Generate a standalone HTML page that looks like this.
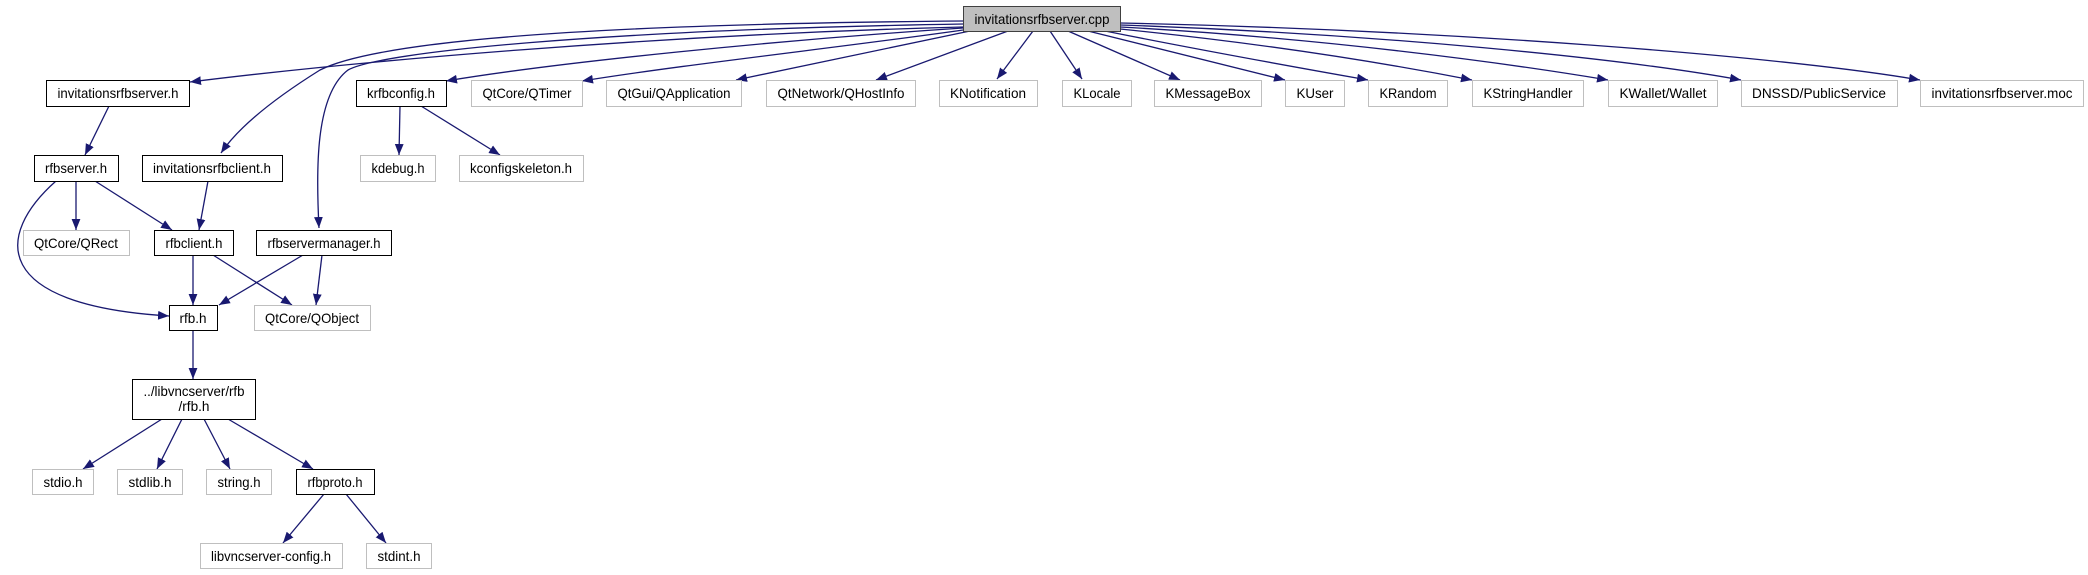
<!DOCTYPE html>
<html><head><meta charset="utf-8"><style>
html,body{margin:0;padding:0;background:#fff;}
svg{display:block;}
text{font-family:"Liberation Sans",sans-serif;font-size:14px;fill:#000;}
</style></head><body>
<svg width="2088" height="575" viewBox="0 0 2088 575" xmlns="http://www.w3.org/2000/svg">
<defs>
<marker id="a" viewBox="0 0 10 10" refX="10" refY="5" markerWidth="11" markerHeight="11" markerUnits="userSpaceOnUse" orient="auto">
<path d="M0,1 L10,5 L0,9 Z" fill="#191970"/>
</marker>
</defs>
<g fill="none" stroke="#191970" stroke-width="1.3" marker-end="url(#a)">
<path d="M963,27 C650,35 350,62 190,82"/>
<path d="M963,21 C600,24 380,40 320,70 C280,95 240,125 221,153"/>
<path d="M963,24 C600,30 380,52 348,70 C315,95 316,170 319,228"/>
<path d="M963,28 C780,40 560,62 446,81"/>
<path d="M963,30 C860,45 680,65 582,81"/>
<path d="M970,31 C880,50 790,68 736,80"/>
<path d="M1008,31 L876,80"/>
<path d="M1033,31 L997,79"/>
<path d="M1050,31 L1082,79"/>
<path d="M1068,31 L1180,80"/>
<path d="M1088,31 L1285,80"/>
<path d="M1105,31 C1200,50 1300,68 1368,80"/>
<path d="M1120,29 C1280,45 1400,66 1472,80"/>
<path d="M1120,27 C1320,38 1500,62 1608,80"/>
<path d="M1120,25 C1380,34 1620,58 1741,80"/>
<path d="M1120,23 C1450,30 1780,56 1920,80"/>
<path d="M109,106 L85,155"/>
<path d="M76,181 L76,230"/>
<path d="M95,181 L172,230"/>
<path d="M56,181 C-5,235 -10,305 169,316"/>
<path d="M208,181 L199,230"/>
<path d="M193,255 L193,305"/>
<path d="M213,255 L292,305"/>
<path d="M303,255 L219,305"/>
<path d="M322,255 L316,305"/>
<path d="M400,106 L399,155"/>
<path d="M421,106 L500,155"/>
<path d="M193,330 L193,379"/>
<path d="M162,419 L83,469"/>
<path d="M182,419 L157,469"/>
<path d="M204,419 L230,469"/>
<path d="M228,419 L313,469"/>
<path d="M324,494 L283,543"/>
<path d="M346,494 L386,543"/>
</g>
<g stroke-width="1">
<rect x="963.5" y="6.5" width="157" height="25" fill="#bfbfbf" stroke="#404040"/>
<g fill="#fff" stroke="#000">
<rect x="46.5" y="80.5" width="143" height="26"/>
<rect x="356.5" y="80.5" width="90" height="26"/>
<rect x="34.5" y="155.5" width="84" height="26"/>
<rect x="142.5" y="155.5" width="140" height="26"/>
<rect x="154.5" y="230.5" width="79" height="25"/>
<rect x="256.5" y="230.5" width="135" height="25"/>
<rect x="169.5" y="305.5" width="48" height="25"/>
<rect x="132.5" y="379.5" width="123" height="40"/>
<rect x="296.5" y="469.5" width="78" height="25"/>
</g>
<g fill="#fff" stroke="#bfbfbf">
<rect x="471.5" y="80.5" width="111" height="26"/>
<rect x="606.5" y="80.5" width="135" height="26"/>
<rect x="766.5" y="80.5" width="149" height="26"/>
<rect x="939.5" y="80.5" width="98" height="26"/>
<rect x="1062.5" y="80.5" width="69" height="26"/>
<rect x="1154.5" y="80.5" width="107" height="26"/>
<rect x="1285.5" y="80.5" width="59" height="26"/>
<rect x="1368.5" y="80.5" width="79" height="26"/>
<rect x="1472.5" y="80.5" width="111" height="26"/>
<rect x="1608.5" y="80.5" width="109" height="26"/>
<rect x="1741.5" y="80.5" width="156" height="26"/>
<rect x="1920.5" y="80.5" width="163" height="26"/>
<rect x="360.5" y="155.5" width="75" height="26"/>
<rect x="459.5" y="155.5" width="124" height="26"/>
<rect x="23.5" y="230.5" width="106" height="25"/>
<rect x="254.5" y="305.5" width="116" height="25"/>
<rect x="32.5" y="469.5" width="61" height="25"/>
<rect x="117.5" y="469.5" width="65" height="25"/>
<rect x="206.5" y="469.5" width="65" height="25"/>
<rect x="200.5" y="543.5" width="142" height="25"/>
<rect x="366.5" y="543.5" width="65" height="25"/>
</g>
</g>
<g text-anchor="middle">
<text x="1042" y="24" textLength="135" lengthAdjust="spacingAndGlyphs">invitationsrfbserver.cpp</text>
<text x="118" y="98" textLength="121" lengthAdjust="spacingAndGlyphs">invitationsrfbserver.h</text>
<text x="401" y="98" textLength="68" lengthAdjust="spacingAndGlyphs">krfbconfig.h</text>
<text x="527" y="98" textLength="89" lengthAdjust="spacingAndGlyphs">QtCore/QTimer</text>
<text x="674" y="98" textLength="113" lengthAdjust="spacingAndGlyphs">QtGui/QApplication</text>
<text x="841" y="98" textLength="127" lengthAdjust="spacingAndGlyphs">QtNetwork/QHostInfo</text>
<text x="988" y="98" textLength="76" lengthAdjust="spacingAndGlyphs">KNotification</text>
<text x="1097" y="98" textLength="47" lengthAdjust="spacingAndGlyphs">KLocale</text>
<text x="1208" y="98" textLength="85" lengthAdjust="spacingAndGlyphs">KMessageBox</text>
<text x="1315" y="98" textLength="37" lengthAdjust="spacingAndGlyphs">KUser</text>
<text x="1408" y="98" textLength="57" lengthAdjust="spacingAndGlyphs">KRandom</text>
<text x="1528" y="98" textLength="89" lengthAdjust="spacingAndGlyphs">KStringHandler</text>
<text x="1663" y="98" textLength="87" lengthAdjust="spacingAndGlyphs">KWallet/Wallet</text>
<text x="1819" y="98" textLength="134" lengthAdjust="spacingAndGlyphs">DNSSD/PublicService</text>
<text x="2002" y="98" textLength="141" lengthAdjust="spacingAndGlyphs">invitationsrfbserver.moc</text>
<text x="76" y="173" textLength="62" lengthAdjust="spacingAndGlyphs">rfbserver.h</text>
<text x="212" y="173" textLength="118" lengthAdjust="spacingAndGlyphs">invitationsrfbclient.h</text>
<text x="398" y="173" textLength="53" lengthAdjust="spacingAndGlyphs">kdebug.h</text>
<text x="521" y="173" textLength="102" lengthAdjust="spacingAndGlyphs">kconfigskeleton.h</text>
<text x="76" y="248" textLength="84" lengthAdjust="spacingAndGlyphs">QtCore/QRect</text>
<text x="194" y="248" textLength="57" lengthAdjust="spacingAndGlyphs">rfbclient.h</text>
<text x="324" y="248" textLength="113" lengthAdjust="spacingAndGlyphs">rfbservermanager.h</text>
<text x="193" y="323" textLength="27" lengthAdjust="spacingAndGlyphs">rfb.h</text>
<text x="312" y="323" textLength="94" lengthAdjust="spacingAndGlyphs">QtCore/QObject</text>
<text x="194" y="396" textLength="101" lengthAdjust="spacingAndGlyphs">../libvncserver/rfb</text>
<text x="194" y="411" textLength="31" lengthAdjust="spacingAndGlyphs">/rfb.h</text>
<text x="63" y="487" textLength="39" lengthAdjust="spacingAndGlyphs">stdio.h</text>
<text x="150" y="487" textLength="43" lengthAdjust="spacingAndGlyphs">stdlib.h</text>
<text x="239" y="487" textLength="43" lengthAdjust="spacingAndGlyphs">string.h</text>
<text x="335" y="487" textLength="55" lengthAdjust="spacingAndGlyphs">rfbproto.h</text>
<text x="271" y="561" textLength="120" lengthAdjust="spacingAndGlyphs">libvncserver-config.h</text>
<text x="399" y="561" textLength="43" lengthAdjust="spacingAndGlyphs">stdint.h</text>
</g>
</svg>
</body></html>
